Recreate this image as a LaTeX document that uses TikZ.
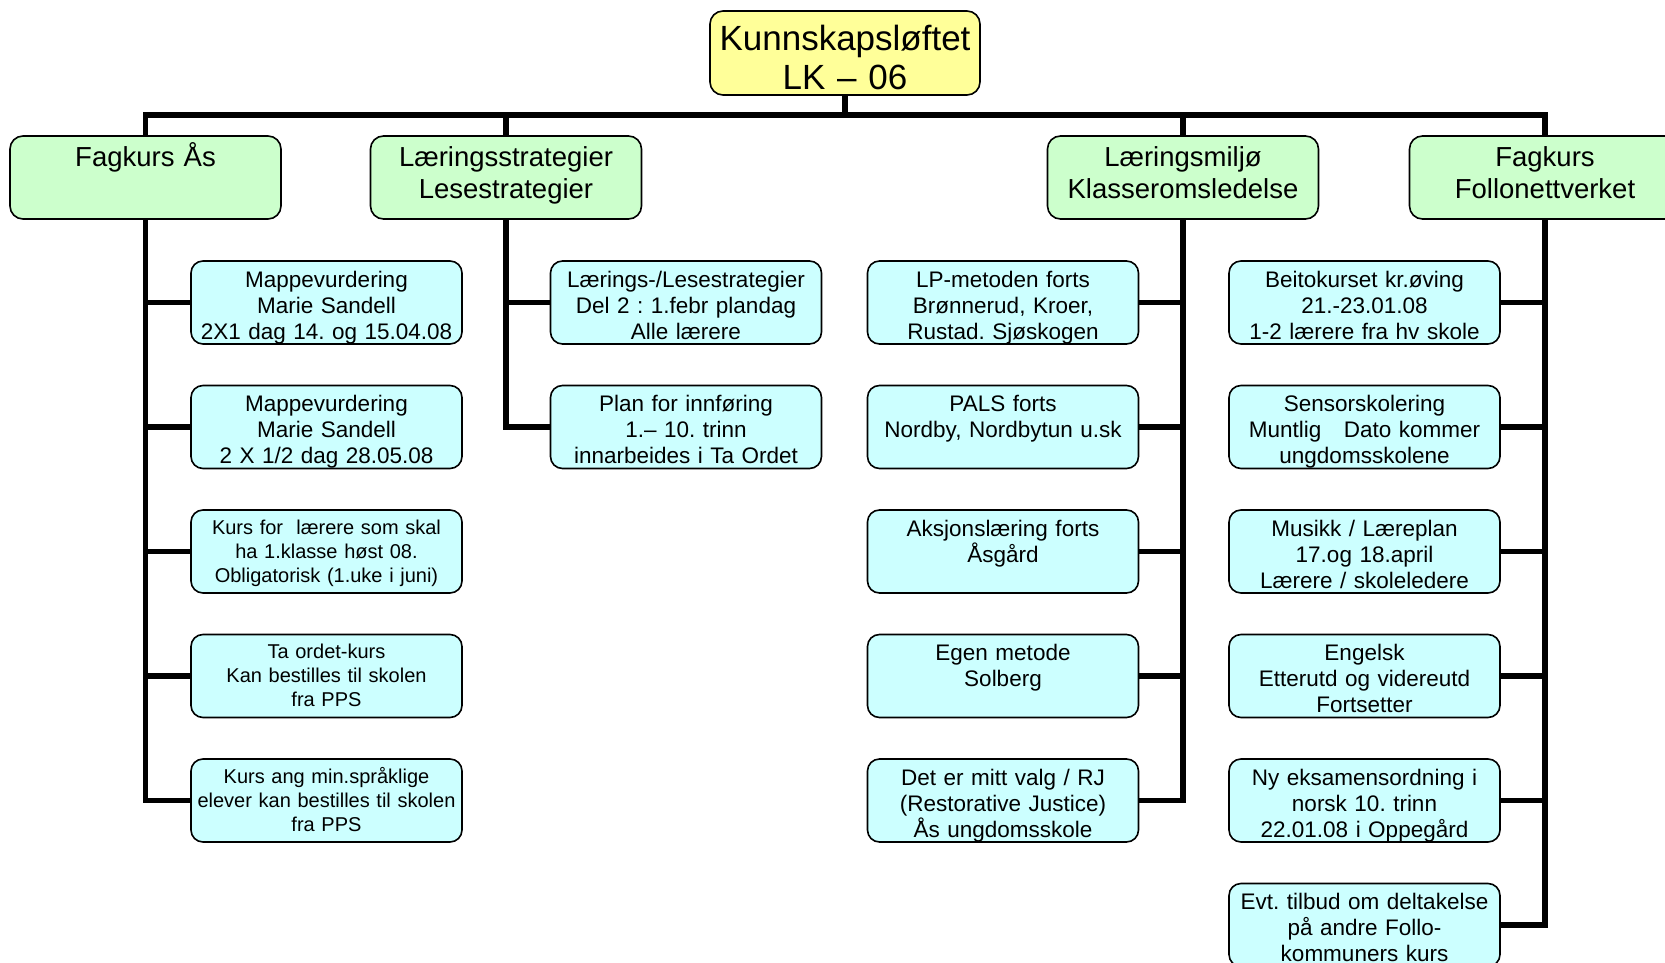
\documentclass[tikz,border=0pt]{standalone}
\usepackage{fontspec}
\setmainfont{Liberation Sans}
\usetikzlibrary{positioning}
\frenchspacing

\definecolor{rootyellow}{HTML}{FFFF99}
\definecolor{headgreen}{HTML}{CCFFCC}
\definecolor{itemcyan}{HTML}{CCFFFF}

\tikzset{
  box/.style={draw, line width=1.6pt, rounded corners=13pt, inner xsep=3pt, inner ysep=3pt, outer sep=0pt, align=center},
  root/.style={box, fill=rootyellow, text width=264pt, font=\fontsize{35}{39}\selectfont, text height=37pt, text depth=41pt},
  head/.style={box, fill=headgreen, text width=265pt, font=\fontsize{27.5}{32}\selectfont, text height=28pt, text depth=49pt},
  item/.style={box, fill=itemcyan, rounded corners=12pt, text width=265pt, font=\fontsize{22.5}{26}\selectfont, text height=23pt, text depth=54pt},
  smallitem/.style={item, font=\fontsize{20}{24}\selectfont, text height=21pt, text depth=56pt},
  link/.style={line width=5.5pt},
}

\begin{document}
\begin{tikzpicture}[x=1pt, y=-1pt]

  \useasboundingbox (0,0) rectangle (1665,963);
  \clip (0,0) rectangle (1665,963);

  \node[root] (root) at (845,53) {Kunnskapsløftet\\LK – 06};

  \node[head] (fa) at (145.5,177.5) {Fagkurs Ås};
  \node[head] (fb) at (506,177.5) {Læringsstrategier\\Lesestrategier};
  \node[head] (fc) at (1183,177.5) {Læringsmiljø\\Klasseromsledelse};
  \node[head] (fd) at (1545,177.5) {Fagkurs\\Follonettverket};

  % Fagkurs Ås
  \node[item, below=42pt of fa, xshift=181pt] (fa1) {Mappevurdering\\Marie Sandell\\2X1 dag 14. og 15.04.08};
  \node[item, below=41.5pt of fa1] (fa2) {Mappevurdering\\Marie Sandell\\2 X 1/2 dag 28.05.08};
  \node[smallitem, below=41.5pt of fa2] (fa3) {Kurs for\ \ lærere som skal\\ha 1.klasse høst 08.\\Obligatorisk (1.uke i juni)};
  \node[smallitem, below=41.5pt of fa3] (fa4) {Ta ordet-kurs\\Kan bestilles til skolen\\fra PPS};
  \node[smallitem, below=41.5pt of fa4] (fa5) {Kurs ang min.språklige\\elever kan bestilles til skolen\\fra PPS};

  % Læringsstrategier
  \node[item, below=42pt of fb, xshift=180pt] (fb1) {Lærings-/Lesestrategier\\Del 2 : 1.febr plandag\\Alle lærere};
  \node[item, below=41.5pt of fb1] (fb2) {Plan for innføring\\1.– 10. trinn\\innarbeides i Ta Ordet};

  % Læringsmiljø
  \node[item, below=42pt of fc, xshift=-180pt] (fc1) {LP-metoden forts\\Brønnerud, Kroer,\\Rustad. Sjøskogen};
  \node[item, below=41.5pt of fc1] (fc2) {PALS forts\\Nordby, Nordbytun u.sk};
  \node[item, below=41.5pt of fc2] (fc3) {Aksjonslæring forts\\Åsgård};
  \node[item, below=41.5pt of fc3] (fc4) {Egen metode\\Solberg};
  \node[item, below=41.5pt of fc4] (fc5) {Det er mitt valg / RJ\\(Restorative Justice)\\Ås ungdomsskole};

  % Follonettverket
  \node[item, below=42pt of fd, xshift=-180.5pt] (fd1) {Beitokurset kr.øving\\21.-23.01.08\\1-2 lærere fra hv skole};
  \node[item, below=41.5pt of fd1] (fd2) {Sensorskolering\\Muntlig\ \ \ Dato kommer\\ungdomsskolene};
  \node[item, below=41.5pt of fd2] (fd3) {Musikk / Læreplan\\17.og 18.april\\Lærere / skoleledere};
  \node[item, below=41.5pt of fd3] (fd4) {Engelsk\\Etterutd og videreutd\\Fortsetter};
  \node[item, below=41.5pt of fd4] (fd5) {Ny eksamensordning i\\norsk 10. trinn\\22.01.08 i Oppegård};
  \node[item, below=41.5pt of fd5] (fd6) {Evt. tilbud om deltakelse\\på andre Follo-\\kommuners kurs};

  \coordinate (bus) at (845,115);
  \draw[link] (root) -- (bus);
  \draw[link] (fa.north) |- (bus) -| (fd.north);
  \draw[link] (fb.north) -- (fb.north |- bus);
  \draw[link] (fc.north) -- (fc.north |- bus);

  \draw[link] (fa.south) |- (fa5.west);
  \draw[link] (fa1.west) -- (fa1.west -| fa.south);
  \draw[link] (fa2.west) -- (fa2.west -| fa.south);
  \draw[link] (fa3.west) -- (fa3.west -| fa.south);
  \draw[link] (fa4.west) -- (fa4.west -| fa.south);

  \draw[link] (fb.south) |- (fb2.west);
  \draw[link] (fb1.west) -- (fb1.west -| fb.south);

  \draw[link] (fc.south) |- (fc5.east);
  \draw[link] (fc1.east) -- (fc1.east -| fc.south);
  \draw[link] (fc2.east) -- (fc2.east -| fc.south);
  \draw[link] (fc3.east) -- (fc3.east -| fc.south);
  \draw[link] (fc4.east) -- (fc4.east -| fc.south);

  \draw[link] (fd.south) |- (fd6.east);
  \draw[link] (fd1.east) -- (fd1.east -| fd.south);
  \draw[link] (fd2.east) -- (fd2.east -| fd.south);
  \draw[link] (fd3.east) -- (fd3.east -| fd.south);
  \draw[link] (fd4.east) -- (fd4.east -| fd.south);
  \draw[link] (fd5.east) -- (fd5.east -| fd.south);

\end{tikzpicture}
\end{document}
